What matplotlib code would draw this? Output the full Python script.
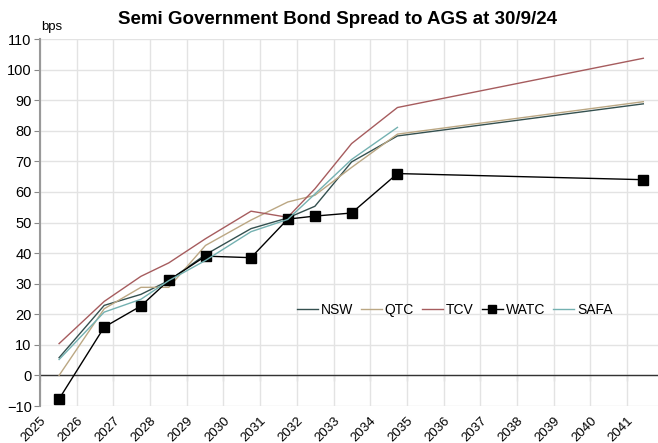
import matplotlib
matplotlib.use("Agg")
import matplotlib.pyplot as plt
import numpy as np

plt.rcParams['font.family'] = ['Liberation Sans', 'DejaVu Sans']

# Maturity dates (decimal years) for the bond lines
dates = [2025.52, 2026.75, 2027.75, 2028.51, 2029.51, 2030.75, 2031.75, 2032.49, 2033.49, 2034.74, 2041.44]
safaDates = dates[:10]

# Spreads to AGS, bps
nsw = [5.8, 22.9, 26.5, 31.0, 39.5, 48.0, 51.5, 55.3, 69.8, 78.3, 88.8]
qtc = [0.0, 21.8, 28.8, 28.8, 42.5, 50.8, 56.7, 58.9, 68.0, 78.9, 89.5]
tcv = [10.4, 24.2, 32.4, 36.8, 44.7, 53.7, 51.7, 61.0, 75.8, 87.6, 103.7]
watc = [-7.7, 15.8, 22.7, 31.1, 39.0, 38.5, 51.1, 52.1, 53.1, 66.0, 64.0]
safa = [5.2, 20.7, 24.9, 31.0, 37.6, 47.0, 51.0, 59.3, 70.6, 81.1]

years = list(range(2025, 2042))
yTicks = list(range(-10, 111, 10))

# Style choices
colNSW = "#34504f"
colQTC = "#bba783"
colTCV = "#a65c5e"
colWATC = "black"
colSAFA = "#74b1b1"
lineWidth = 1.0

fig = plt.figure(figsize=(6.58, 4.43), dpi=100)
ax = fig.add_axes([40/658, 37/443, 1 - 40/658, 1 - 39/443 - 37/443])

ax.plot(dates, nsw, color=colNSW, lw=lineWidth, label="NSW")
ax.plot(dates, qtc, color=colQTC, lw=lineWidth, label="QTC")
ax.plot(dates, tcv, color=colTCV, lw=lineWidth, label="TCV")
ax.plot(dates, watc, color=colWATC, lw=lineWidth, marker="s", markersize=7, label="WATC")
ax.plot(safaDates, safa, color=colSAFA, lw=lineWidth, label="SAFA")

ax.set_xlim(2025, 2041.84)
ax.set_ylim(-10, 110)
ax.set_yticks(yTicks)
ax.set_xticks(years)
ax.grid(True, color="#e3e3e3", lw=1.0)
ax.set_axisbelow(True)

# Zero line with the year ticks hanging off it
ax.axhline(0, color="#333333", lw=1.0, zorder=1.5)
sec = ax.secondary_xaxis(1/12)
sec.set_xticks(years)
sec.set_xticklabels([])
sec.spines["bottom"].set_visible(False)
sec.tick_params(axis="x", direction="out", length=4, color="#555555", width=0.8)

ax.set_xticklabels([str(y) for y in years], rotation=45, ha="right", va="top",
                   rotation_mode="anchor", fontsize=9.5)
ax.tick_params(axis="x", length=0, pad=6)
ax.tick_params(axis="y", direction="out", length=4, color="#888888", labelsize=10.5, pad=2)

for side in ["top", "right", "bottom"]:
    ax.spines[side].set_visible(False)
ax.spines["left"].set_color("#999999")
ax.spines["left"].set_linewidth(1.5)

ax.legend(loc="center", bbox_to_anchor=(2036.3, 21.5), bbox_transform=ax.transData,
          ncol=5, frameon=False, fontsize=10, handlelength=1.5, handletextpad=0.2,
          columnspacing=0.6, borderpad=0, markerscale=0.75)

fig.text(337/658, 1 - 20/443, "Semi Government Bond Spread to AGS at 30/9/24",
         ha="center", va="center", fontsize=13.5, fontweight="bold")
fig.text(41/658, 1 - 27/443, "bps", ha="left", va="center", fontsize=9.5)

fig.savefig("out.png", dpi=100)
